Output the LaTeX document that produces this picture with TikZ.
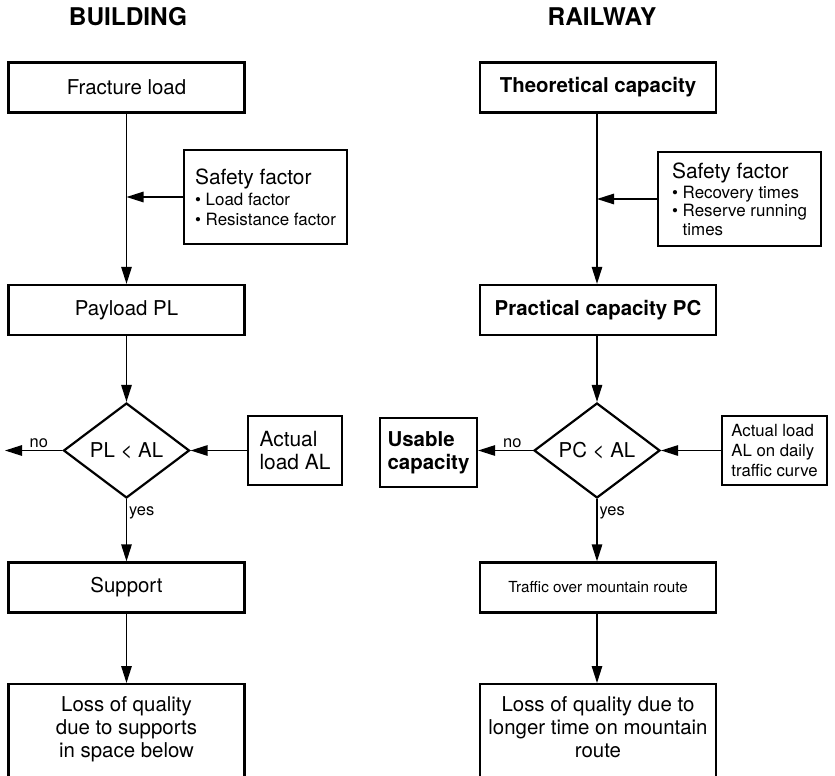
\documentclass[tikz,border=0pt]{standalone}
\usepackage{fontspec}
\setmainfont{TeX Gyre Heros}
\usetikzlibrary{arrows.meta}
\usetikzlibrary{positioning}
\usetikzlibrary{shapes.geometric}

\tikzset{
  box/.style={draw, line width=2.3bp, minimum width=236bp, minimum height=50bp,
    align=center, inner sep=0pt, font=\fontsize{20.5}{23}\selectfont},
  sidebox/.style={draw, line width=2.3bp, align=left, inner sep=0pt},
  check/.style={draw, diamond, aspect=1.33, line width=2.2bp, minimum width=126bp,
    minimum height=95bp, inner sep=0pt, font=\fontsize{20.5}{23}\selectfont},
  flow/.style={line width=1.3bp, -{Triangle[length=17bp,width=10.5bp]}},
  heading/.style={font=\fontsize{24.5}{28}\selectfont\bfseries},
  answer/.style={font=\fontsize{16.5}{18}\selectfont, inner sep=2bp},
}

\begin{document}
\begin{tikzpicture}[x=1bp, y=-1bp]
    \useasboundingbox (0,0) rectangle (835,776);

    % building side
    \node[heading] (build) at (128,17) {BUILDING};
    \node[box] (fracture) at (126.5,87.5) {Fracture load};
    \node[sidebox, minimum width=163bp, minimum height=94bp,
      font=\fontsize{17}{20}\selectfont] (safety_b) at (265.5,197)
      {{\fontsize{21}{23}\selectfont Safety factor}\\[1bp]
       \textbullet\ Load factor\\
       \textbullet\ Resistance factor};
    \node[box] (payload) at (126.5,310) {Payload PL};
    \node[check] (check_b) at (126.5,450.5) {PL < AL};
    \node[sidebox, minimum width=94bp, minimum height=69bp,
      font=\fontsize{21}{23}\selectfont] (actual_b) at (295,450.5) {Actual\\load AL};
    \coordinate (nob) at (5,450.5);
    \node[box] (support) at (126.5,587.5) {Support};
    \node[box, anchor=north, minimum height=130bp] (loss_b) at (126.5,683) {};
    \node[align=center, font=\fontsize{20.5}{23}\selectfont, below=10bp of loss_b.north]
      (loss_bt) {Loss of quality\\due to supports\\in space below};

    % railway side
    \node[heading] (rail) at (602,17) {RAILWAY};
    \node[box, font=\fontsize{20.5}{23}\selectfont\bfseries] (theory) at (598,87.5) {Theoretical capacity};
    \node[sidebox, minimum width=163bp, minimum height=94bp,
      font=\fontsize{17}{18.5}\selectfont] (safety_r) at (739.5,199)
      {{\fontsize{21}{23}\selectfont Safety factor}\\[2bp]
       \textbullet\ Recovery times\\
       \textbullet\ Reserve running\\
       \phantom{\textbullet\ }times};
    \node[box, font=\fontsize{20.5}{23}\selectfont\bfseries] (practical) at (598,310) {Practical capacity PC};
    \node[check] (check_r) at (597,450.5) {PC < AL};
    \node[sidebox, minimum width=97bp, minimum height=69bp,
      font=\fontsize{20.5}{23}\selectfont\bfseries] (usable) at (428.5,452.5) {Usable\\capacity};
    \node[sidebox, minimum width=105bp, minimum height=69bp,
      font=\fontsize{16.8}{20.5}\selectfont] (actual_r) at (774.5,450.5)
      {Actual load\\AL on daily\\traffic curve};
    \node[box, font=\fontsize{15.3}{20}\selectfont] (traffic) at (598,587.5) {Traffic over mountain route};
    \node[box, anchor=north, minimum height=130bp] (loss_r) at (598,683) {};
    \node[align=center, font=\fontsize{20.5}{23}\selectfont, below=10bp of loss_r.north]
      (loss_rt) {Loss of quality due to\\longer time on mountain\\route};

    % connectors
    \draw[flow] (fracture) -- (payload);
    \draw[flow] (safety_b.west) -- (safety_b.west -| fracture);
    \draw[flow] (payload) -- (check_b);
    \draw[flow] (actual_b) -- (check_b);
    \draw[flow] (check_b) -- node[answer, pos=0.41, above] {no} (nob);
    \draw[flow] (check_b) -- node[answer, pos=0.22, right] {yes} (support);
    \draw[flow] (support) -- (loss_b);

    \draw[flow] (theory.south -| check_r) -- (practical.north -| check_r);
    \draw[flow] (safety_r) -- (safety_r -| check_r);
    \draw[flow] (practical.south -| check_r) -- (check_r);
    \draw[flow] (actual_r) -- (check_r);
    \draw[flow] (check_r) -- node[answer, pos=0.375, above] {no} (check_r.west -| usable.east);
    \draw[flow] (check_r) -- node[answer, pos=0.22, right] {yes} (traffic.north -| check_r);
    \draw[flow] (traffic.south -| check_r) -- (loss_r.north -| check_r);
\end{tikzpicture}
\end{document}
